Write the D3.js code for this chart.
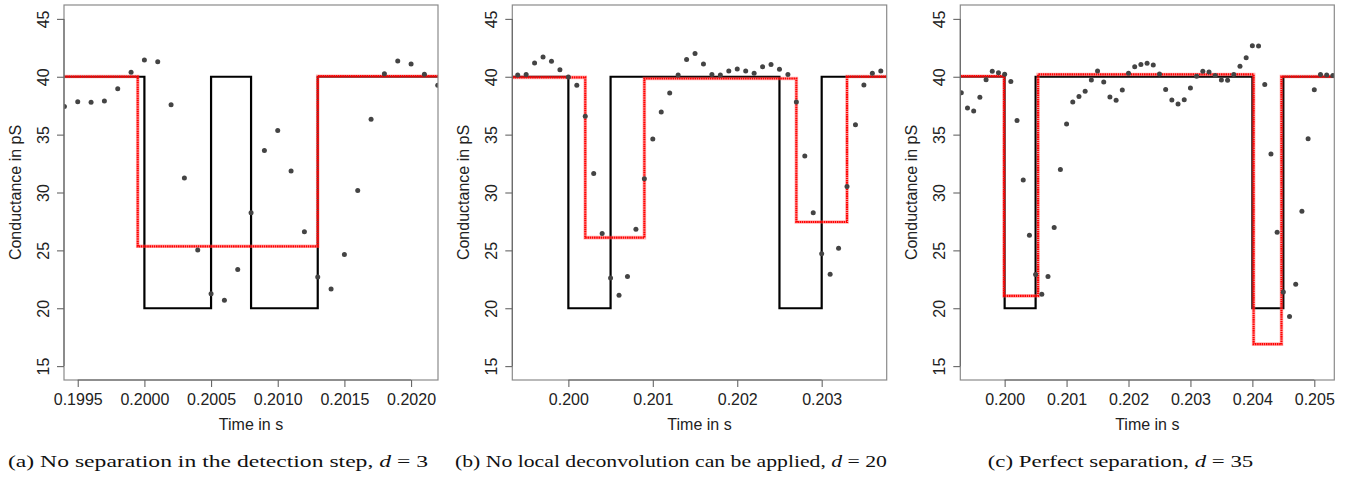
<!DOCTYPE html>
<html><head><meta charset="utf-8">
<script src="https://cdn.jsdelivr.net/npm/d3@7"></script>
<style>
body{margin:0;background:#fff;}
svg{display:block;}
</style></head>
<body>
<svg id="chart" width="1347" height="483"></svg>
<script>
// ---- data ----
const yTicks = [15, 20, 25, 30, 35, 40, 45];
const xTicksA = [0.1995, 0.2000, 0.2005, 0.2010, 0.2015, 0.2020];
const xTicksB = [0.200, 0.201, 0.202, 0.203];
const xTicksC = [0.200, 0.201, 0.202, 0.203, 0.204, 0.205];

const timeA = [0.1994,0.1995,0.1996,0.1997,0.1998,0.1999,0.2000,0.2001,0.2002,0.2003,0.2004,0.2005,0.2006,0.2007,0.2008,0.2009,0.2010,0.2011,0.2012,0.2013,0.2014,0.2015,0.2016,0.2017,0.2018,0.2019,0.2020,0.2021,0.2022];
const valueA = [37.44,37.85,37.8,37.9,38.97,40.38,41.45,41.3,37.59,31.25,25.04,21.26,20.69,23.34,28.24,33.63,35.36,31.85,26.6,22.71,21.67,24.64,30.17,36.32,40.27,41.37,41.1,40.21,39.26];

const timeB = [0.1994,0.1995,0.1996,0.1997,0.1998,0.1999,0.2000,0.2001,0.2002,0.2003,0.2004,0.2005,0.2006,0.2007,0.2008,0.2009,0.2010,0.2011,0.2012,0.2013,0.2014,0.2015,0.2016,0.2017,0.2018,0.2019,0.2020,0.2021,0.2022,0.2023,0.2024,0.2025,0.2026,0.2027,0.2028,0.2029,0.2030,0.2031,0.2032,0.2033,0.2034,0.2035,0.2036,0.2037];
const valueB = [40.15,40.2,41.19,41.71,41.33,40.61,39.98,39.26,36.58,31.64,26.45,22.62,21.12,22.74,26.83,31.18,34.62,36.95,38.6,40.15,41.5,42.02,41.1,40.2,40.15,40.5,40.67,40.5,40.3,40.87,41.07,40.64,40.2,37.82,33.15,28.24,24.7,22.94,25.19,30.52,35.86,39.29,40.3,40.5];

const timeC = [0.1993,0.1994,0.1995,0.1996,0.1997,0.1998,0.1999,0.2000,0.2001,0.2002,0.2003,0.2004,0.2005,0.2006,0.2007,0.2008,0.2009,0.2010,0.2011,0.2012,0.2013,0.2014,0.2015,0.2016,0.2017,0.2018,0.2019,0.2020,0.2021,0.2022,0.2023,0.2024,0.2025,0.2026,0.2027,0.2028,0.2029,0.2030,0.2031,0.2032,0.2033,0.2034,0.2035,0.2036,0.2037,0.2038,0.2039,0.2040,0.2041,0.2042,0.2043,0.2044,0.2045,0.2046,0.2047,0.2048,0.2049,0.2050,0.2051,0.2052,0.2053];
const valueC = [38.62,37.3,37.04,38.22,39.75,40.47,40.35,40.21,39.58,36.23,31.07,26.3,22.91,21.21,22.74,26.97,31.99,35.92,37.82,38.3,38.74,39.72,40.5,39.55,38.25,37.96,38.86,40.3,40.87,41.07,41.16,41.02,40.24,38.91,37.99,37.64,38.02,39.03,40.04,40.47,40.41,40.1,39.72,39.69,40.19,40.9,41.65,42.69,42.66,39.34,33.32,26.57,21.41,19.28,22.08,28.39,34.65,38.88,40.2,40.15,40.1];

// true signal (black) and estimate (red): change points and levels
const truthBreaksA = [0.2000, 0.2005, 0.2008, 0.2013];
const truthLevelsA = [40, 20, 40, 20, 40];
const estBreaksA = [0.19995, 0.2013];
const estLevelsA = [40.02, 25.35, 40.05];

const truthBreaksB = [0.2000, 0.2005, 0.2025, 0.2030];
const truthLevelsB = [40, 20, 40, 20, 40];
const estBreaksB = [0.2002, 0.2009, 0.2027, 0.2033];
const estLevelsB = [39.95, 26.1, 39.85, 27.45, 40.02];

const truthBreaksC = [0.2000, 0.2005, 0.2040, 0.2045];
const truthLevelsC = [40, 20, 40, 20, 40];
const estBreaksC = [0.19999, 0.20054, 0.20402, 0.20447];
const estLevelsC = [40.05, 21.07, 40.2, 16.9, 40.02];

const yLabel = "Conductance in pS";
const xLabel = "Time in s";
const captions = [
  ["(a) No separation in the detection step, ", "d", " = 3"],
  ["(b) No local deconvolution can be applied, ", "d", " = 20"],
  ["(c) Perfect separation, ", "d", " = 35"]
];

// ---- layout ----
const panels = [
  {left: 64, right: 438, domain: [0.199397, 0.202202], ticks: xTicksA, fmt: ".4f",
   time: timeA, value: valueA, tb: truthBreaksA, tl: truthLevelsA, eb: estBreaksA, el: estLevelsA,
   cap: captions[0], capX: 8, capW: 420},
  {left: 512.3, right: 886.7, domain: [0.199336, 0.20377], ticks: xTicksB, fmt: ".3f",
   time: timeB, value: valueB, tb: truthBreaksB, tl: truthLevelsB, eb: estBreaksB, el: estLevelsB,
   cap: captions[1], capX: 455, capW: 432},
  {left: 960.3, right: 1334.3, domain: [0.199284, 0.205323], ticks: xTicksC, fmt: ".3f",
   time: timeC, value: valueC, tb: truthBreaksC, tl: truthLevelsC, eb: estBreaksC, el: estLevelsC,
   cap: captions[2], capX: 987.7, capW: 265.6}
];
const plotTop = 5, plotBottom = 380;
const svg = d3.select("#chart");
const sans = "'Liberation Sans', Arial, Helvetica, sans-serif";

function stepPoints(breaks, levels, domain) {
  const pts = [];
  const edges = [domain[0], ...breaks, domain[1]];
  for (let i = 0; i < levels.length; i++) {
    pts.push([edges[i], levels[i]]);
    pts.push([edges[i + 1], levels[i]]);
  }
  return pts;
}

panels.forEach((p, idx) => {
  const x = d3.scaleLinear().domain(p.domain).range([p.left, p.right]);
  const y = d3.scaleLinear().domain([13.8, 46.2]).range([plotBottom, plotTop]);
  const g = svg.append("g");
  const clipId = "clip" + idx;
  svg.append("clipPath").attr("id", clipId).append("rect")
    .attr("x", p.left).attr("y", plotTop).attr("width", p.right - p.left).attr("height", plotBottom - plotTop);

  const line = d3.line().x(d => x(d[0])).y(d => y(d[1]));
  const plot = g.append("g").attr("clip-path", `url(#${clipId})`);

  // true signal
  plot.append("path").datum(stepPoints(p.tb, p.tl, p.domain))
    .attr("d", line).attr("fill", "none").attr("stroke", "#000").attr("stroke-width", 2.2)
    .attr("stroke-linejoin", "miter");
  // estimate (red dotted, thick)
  const est = stepPoints(p.eb, p.el, p.domain);
  plot.append("path").datum(est)
    .attr("d", line).attr("fill", "none").attr("stroke", "#ff5a5a").attr("stroke-opacity", 0.45)
    .attr("stroke-width", 3.6);
  plot.append("path").datum(est)
    .attr("d", line).attr("fill", "none").attr("stroke", "#ff0000").attr("stroke-width", 2.2)
    .attr("stroke-dasharray", "1.6,0.6");
  // observations
  plot.selectAll("circle").data(p.time.map((t, i) => [t, p.value[i]])).join("circle")
    .attr("cx", d => x(d[0])).attr("cy", d => y(d[1])).attr("r", 2.5).attr("fill", "#444");

  // box
  g.append("rect").attr("x", p.left).attr("y", plotTop).attr("width", p.right - p.left)
    .attr("height", plotBottom - plotTop).attr("fill", "none").attr("stroke", "#8a8a8a").attr("stroke-width", 1.2);

  // x axis
  const xa = g.append("g").attr("transform", `translate(0,${plotBottom})`)
    .call(d3.axisBottom(x).tickValues(p.ticks).tickFormat(d3.format(p.fmt)).tickSize(7).tickSizeOuter(0).tickPadding(4));
  xa.select(".domain").attr("stroke", "#666").attr("stroke-width", 1.1)
    .attr("d", `M${x(p.ticks[0])},0H${x(p.ticks[p.ticks.length - 1])}`);
  xa.selectAll(".tick line").attr("stroke", "#666").attr("stroke-width", 1.1);
  xa.selectAll(".tick text").attr("font-family", sans).attr("font-size", 16).attr("fill", "#222")
    .attr("y", 19).attr("dy", "0.35em");

  // y axis
  const ya = g.append("g").attr("transform", `translate(${p.left},0)`)
    .call(d3.axisLeft(y).tickValues(yTicks).tickSize(7).tickSizeOuter(0));
  ya.select(".domain").attr("stroke", "#666").attr("stroke-width", 1.1)
    .attr("d", `M0,${y(15)}V${y(45)}`);
  ya.selectAll(".tick line").attr("stroke", "#666").attr("stroke-width", 1.1);
  ya.selectAll(".tick text").attr("font-family", sans).attr("font-size", 16).attr("fill", "#222")
    .attr("x", 0).attr("y", -21).attr("dy", "0.35em").attr("text-anchor", "middle")
    .attr("transform", "rotate(-90)");

  // axis titles
  g.append("text").attr("x", (p.left + p.right) / 2).attr("y", 424).attr("dy", "0.35em")
    .attr("text-anchor", "middle").attr("font-family", sans).attr("font-size", 16).attr("fill", "#222")
    .text(xLabel);
  g.append("text").attr("transform", `translate(${p.left - 49},${(plotTop + plotBottom) / 2}) rotate(-90)`)
    .attr("dy", "0.35em").attr("text-anchor", "middle").attr("font-family", sans)
    .attr("font-size", 16).attr("fill", "#222").text(yLabel);

  // caption
  const cap = svg.append("text").attr("x", p.capX).attr("y", 467)
    .attr("font-family", "'Liberation Serif', 'Times New Roman', serif").attr("font-size", 17.5)
    .attr("fill", "#111").attr("textLength", p.capW).attr("lengthAdjust", "spacingAndGlyphs");
  cap.append("tspan").text(p.cap[0]);
  cap.append("tspan").attr("font-style", "italic").text(p.cap[1]);
  cap.append("tspan").text(p.cap[2]);
});
</script>
</body></html>
